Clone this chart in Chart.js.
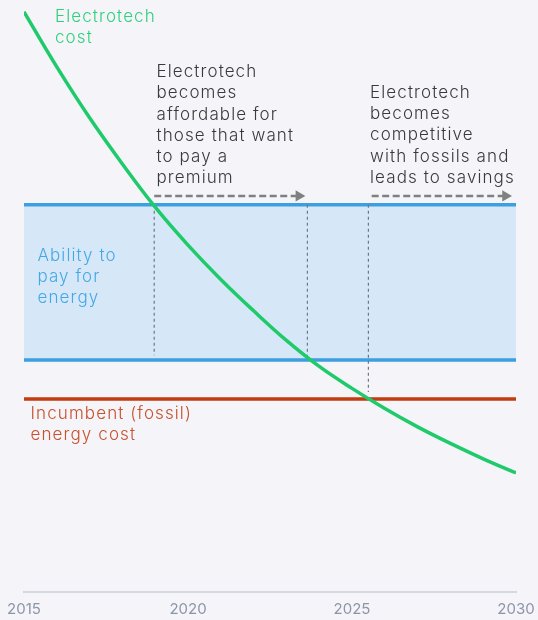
<!DOCTYPE html>
<html lang="en">
<head>
    <meta charset="UTF-8">
    <title>Electrotech cost vs ability to pay</title>
    <script src="https://cdn.jsdelivr.net/npm/chart.js"></script>
    <style>
        html, body { margin: 0; padding: 0; background: #f4f4f9; }
        canvas { display: block; }
    </style>
</head>
<body>

<canvas id="costChart" width="538" height="620"></canvas>

<script>
// years along the x axis
const years = [2015, 2016, 2017, 2018, 2019, 2020, 2021, 2022, 2023, 2024, 2025, 2026, 2027, 2028, 2029, 2030];
// electrotech cost (index)
const electrotechCost = [98.0, 88.7, 80.1, 72.3, 65.0, 58.6, 52.8, 47.5, 42.5, 38.1, 34.4, 31.0, 27.9, 25.1, 22.5, 20.1];
// ability-to-pay band and incumbent cost
const abilityTop = 65.4;
const abilityBottom = 39.2;
const fossilCost = 32.6;
// milestone years (where the cost curve crosses each level)
const milestoneYears = [2018.97, 2023.64, 2025.5];
const milestoneBottoms = [40.0, 39.2, 33.8];
// arrows: start / end years, level
const arrowLevel = 66.9;
const arrowSpans = [[2018.97, 2023.38], [2025.6, 2029.68]];
const tickYears = [2015, 2020, 2025, 2030];

const fontFamily = 'Inter, "Noto Sans", sans-serif';

function flatLine(value) {
    return [{ x: years[0], y: value }, { x: years[years.length - 1], y: value }];
}

const datasets = [
    {
        label: 'Electrotech cost',
        data: years.map((y, i) => ({ x: y, y: electrotechCost[i] })),
        borderColor: '#1fca6b',
        borderWidth: 3.5,
        pointRadius: 0,
        tension: 0.4,
        fill: false,
        order: 0
    },
    {
        label: 'Ability top',
        data: flatLine(abilityTop),
        borderColor: '#3b9fe0',
        borderWidth: 3.5,
        pointRadius: 0,
        fill: { target: 2 },
        backgroundColor: '#d6e8f8',
        order: 4
    },
    {
        label: 'Ability bottom',
        data: flatLine(abilityBottom),
        borderColor: '#3b9fe0',
        borderWidth: 3.5,
        pointRadius: 0,
        fill: false,
        order: 3
    },
    {
        label: 'Fossil cost',
        data: flatLine(fossilCost),
        borderColor: '#c23d0e',
        borderWidth: 3.5,
        pointRadius: 0,
        fill: false,
        order: 2
    }
];

// dotted drop lines at the milestones
milestoneYears.forEach((yr, i) => {
    datasets.push({
        label: 'milestone ' + i,
        data: [{ x: yr, y: abilityTop }, { x: yr, y: milestoneBottoms[i] }],
        borderColor: '#727886',
        borderWidth: 1.2,
        borderDash: [3, 3],
        pointRadius: 0,
        fill: false,
        order: 1
    });
});

// dashed arrows with triangle heads
arrowSpans.forEach((span, i) => {
    datasets.push({
        label: 'arrow ' + i,
        data: [{ x: span[0], y: arrowLevel }, { x: span[1], y: arrowLevel }],
        borderColor: '#808080',
        borderWidth: 2.5,
        borderDash: [7, 3.5],
        pointStyle: 'triangle',
        pointRotation: 90,
        pointRadius: [0, 6.5],
        pointBackgroundColor: '#808080',
        pointBorderWidth: 0,
        fill: false,
        order: 1
    });
});

// text labels, placed with scale values
const labels = [
    { lines: ['Electrotech', 'cost'], x: 2015.945, y: 96.3, color: '#2fd07c' },
    { lines: ['Electrotech', 'becomes', 'affordable for', 'those that want', 'to pay a', 'premium'], x: 2019.04, y: 87.0, color: '#3a3a3a' },
    { lines: ['Electrotech', 'becomes', 'competitive', 'with fossils and', 'leads to savings'], x: 2025.55, y: 83.5, color: '#3a3a3a' },
    { lines: ['Ability to', 'pay for', 'energy'], x: 2015.41, y: 55.96, color: '#45a8e6' },
    { lines: ['Incumbent (fossil)', 'energy cost'], x: 2015.2, y: 29.2, color: '#c8502a' }
];

const backgroundPlugin = {
    id: 'background',
    beforeDraw(chart) {
        const ctx = chart.ctx;
        ctx.save();
        ctx.fillStyle = '#f4f4f9';
        ctx.fillRect(0, 0, chart.width, chart.height);
        ctx.restore();
    }
};

const textPlugin = {
    id: 'textLabels',
    afterDraw(chart) {
        const ctx = chart.ctx;
        const xs = chart.scales.x;
        const ys = chart.scales.y;
        ctx.save();
        ctx.font = '300 17px ' + fontFamily;
        ctx.letterSpacing = '1.1px';
        ctx.textAlign = 'left';
        ctx.textBaseline = 'alphabetic';
        labels.forEach(lbl => {
            ctx.fillStyle = lbl.color;
            const px = xs.getPixelForValue(lbl.x);
            const py = ys.getPixelForValue(lbl.y);
            lbl.lines.forEach((line, i) => {
                ctx.fillText(line, px, py + i * 21.3);
            });
        });
        ctx.restore();
    }
};

new Chart(document.getElementById('costChart'), {
    type: 'line',
    data: { datasets: datasets },
    options: {
        responsive: false,
        animation: false,
        layout: { autoPadding: false, padding: { left: 24, right: 22, top: 0, bottom: 0 } },
        plugins: {
            legend: { display: false },
            tooltip: { enabled: false }
        },
        scales: {
            x: {
                type: 'linear',
                min: 2015,
                max: 2030,
                afterBuildTicks(scale) {
                    scale.ticks = tickYears.map(v => ({ value: v }));
                },
                afterFit(scale) {
                    // let the end labels hang into the page padding
                    scale.paddingLeft = 0;
                    scale.paddingRight = 0;
                    scale.height = 28;
                },
                ticks: {
                    color: '#8d95a8',
                    font: { family: fontFamily, size: 15 },
                    padding: 8,
                    maxRotation: 0,
                    callback: v => String(v)
                },
                grid: { display: false, drawTicks: false },
                border: { display: true, color: '#d5d9e2', width: 2 }
            },
            y: {
                display: false,
                min: 0,
                max: 100
            }
        }
    },
    plugins: [backgroundPlugin, textPlugin]
});
</script>

</body>
</html>
